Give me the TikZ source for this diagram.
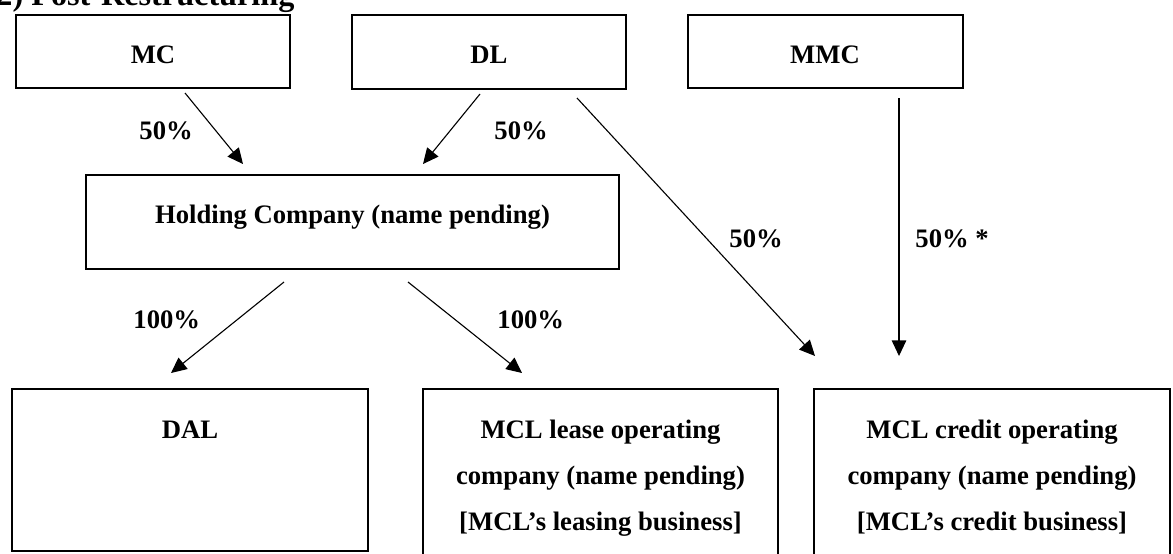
\documentclass[tikz,border=0pt]{standalone}
\usepackage{fontspec}
\setmainfont{Liberation Serif}
\usetikzlibrary{arrows.meta,fit}
\begin{document}
\begin{tikzpicture}[x=0.45pt,y=-0.45pt,
  entity/.style={draw,line width=0.9pt,inner sep=0pt},
  txt/.style={font=\fontsize{12}{14}\selectfont\bfseries,anchor=base,inner sep=0pt},
  pct/.style={font=\fontsize{12}{14}\selectfont\bfseries,anchor=base west,inner sep=0pt},
  own/.style={line width=0.5pt,-{Triangle[length=7pt,width=6.5pt]}}]
\useasboundingbox (0,0) rectangle (1173,553);
\clip (0,0) rectangle (1173,553);

% title (cut off at the top)
\node[anchor=base west,inner sep=0pt,font=\fontsize{14.5}{16}\selectfont\bfseries] (title) at (-4,5) {2) Post-Restructuring};

% top row
\node[entity,fit={(16,15) (290,88)}] (mc) {};
\node[entity,fit={(352,15) (626,89)}] (dl) {};
\node[entity,fit={(688,15) (963,88)}] (mmc) {};
\node[txt] (mct) at (153,63) {MC};
\node[txt] (dlt) at (489,63) {DL};
\node[txt] (mmct) at (825,63) {MMC};

% holding company
\node[entity,fit={(86,175) (619,269)}] (hold) {};
\node[txt] (holdt) at (352.5,223) {Holding Company (name pending)};

% bottom row
\node[entity,fit={(12,389) (368,551)}] (dal) {};
\node[entity,fit={(423,389) (778,570)}] (lease) {};
\node[entity,fit={(814,389) (1170,570)}] (credit) {};
\node[txt] (dalt) at (190,438) {DAL};
\node[txt] (lease1) at (600.5,438) {MCL lease operating};
\node[txt] (lease2) at (600.5,484) {company (name pending)};
\node[txt] (lease3) at (600.5,530) {[MCL’s leasing business]};
\node[txt] (credit1) at (992,438) {MCL credit operating};
\node[txt] (credit2) at (992,484) {company (name pending)};
\node[txt] (credit3) at (992,530) {[MCL’s credit business]};

% connector end points
\coordinate (mcS) at (185,93);
\coordinate (holdL) at (243,164);
\coordinate (dlS1) at (480,94);
\coordinate (holdR) at (423,164);
\coordinate (dlS2) at (577,98);
\coordinate (creditL) at (815,356);
\coordinate (mmcS) at (899,98);
\coordinate (creditM) at (899,356);
\coordinate (holdS1) at (284,282);
\coordinate (dalT) at (171,373);
\coordinate (holdS2) at (408,282);
\coordinate (leaseT) at (522,373);

\draw[own] (mcS) -- (holdL);
\draw[own] (dlS1) -- (holdR);
\draw[own] (dlS2) -- (creditL);
\draw[own] (mmcS) -- (creditM);
\draw[own] (holdS1) -- (dalT);
\draw[own] (holdS2) -- (leaseT);

% percentages
\node[pct] (p1) at (139,139) {50\%};
\node[pct] (p2) at (494,139) {50\%};
\node[pct] (p3) at (729,247) {50\%};
\node[pct] (p4) at (915,247) {50\% *};
\node[pct] (p5) at (133,328) {100\%};
\node[pct] (p6) at (497,328) {100\%};
\end{tikzpicture}
\end{document}
